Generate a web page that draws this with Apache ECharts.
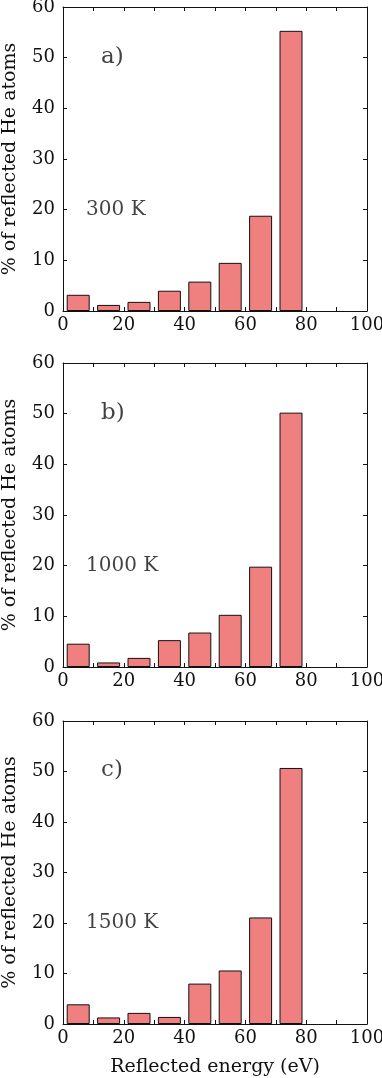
<!DOCTYPE html>
<html>
<head>
<meta charset="utf-8">
<script src="https://cdn.jsdelivr.net/npm/echarts@6/dist/echarts.min.js"></script>
<style>
  html, body { margin: 0; padding: 0; background: #fff; }
  #chart { width: 382px; height: 1078px; }
</style>
</head>
<body>
<div id="chart"></div>
<script>
//--------------------- Data ---------------------------//
const binCenters = [5, 15, 25, 35, 45, 55, 65, 75];
const values300 = [3.2, 1.2, 1.8, 4.0, 5.8, 9.5, 18.8, 55.3];
const values1000 = [4.6, 0.9, 1.8, 5.3, 6.8, 10.3, 19.8, 50.2];
const values1500 = [3.9, 1.3, 2.2, 1.4, 8.0, 10.6, 21.1, 50.7];
const panelLetters = ['a)', 'b)', 'c)'];
const tempLabels = ['300 K', '1000 K', '1500 K'];

//--------------------- Style ---------------------------//
const font = 'DejaVu Serif';
const ink = '#111';
const barColor = '#f08080';
const grids = [
  { left: 63, right: 15, top: 7, height: 304, outerBoundsMode: 'none' },
  { left: 63, right: 15, top: 363, height: 304, outerBoundsMode: 'none' },
  { left: 63, right: 15, top: 721, height: 303, outerBoundsMode: 'none' },
];

const chart = echarts.init(document.getElementById('chart'));

const xAxes = [];
const yAxes = [];
const series = [];
const allValues = [values300, values1000, values1500];

grids.forEach((g, i) => {
  const tick = { show: true, inside: true, length: 4, lineStyle: { color: ink } };
  const minor = { show: true, splitNumber: 2, length: 4, lineStyle: { color: ink } };
  const line = { show: true, onZero: false, lineStyle: { color: ink, width: 1 } };
  // bottom x axis
  xAxes.push({
    gridIndex: i, type: 'value', min: 0, max: 100, interval: 20, position: 'bottom',
    axisLine: line, axisTick: tick, minorTick: minor,
    splitLine: { show: false }, minorSplitLine: { show: false },
    axisLabel: { fontFamily: font, fontSize: 18, color: ink, margin: 5 },
    name: i === 2 ? 'Reflected energy (eV)' : '',
    nameLocation: 'middle', nameGap: 34,
    nameTextStyle: { fontFamily: font, fontSize: 19, color: ink },
  });
  // top x axis (ticks only)
  xAxes.push({
    gridIndex: i, type: 'value', min: 0, max: 100, interval: 20, position: 'top',
    axisLine: line, axisTick: tick, minorTick: minor,
    splitLine: { show: false }, axisLabel: { show: false },
  });
  // left y axis
  yAxes.push({
    gridIndex: i, type: 'value', min: 0, max: 60, interval: 10, position: 'left',
    axisLine: line, axisTick: tick, splitLine: { show: false },
    axisLabel: { fontFamily: font, fontSize: 18, color: ink, margin: 8 },
    name: '% of reflected He atoms', nameLocation: 'middle', nameRotate: 90, nameGap: 43,
    nameTextStyle: { fontFamily: font, fontSize: 19, color: ink },
  });
  // right y axis (ticks only)
  yAxes.push({
    gridIndex: i, type: 'value', min: 0, max: 60, interval: 10, position: 'right',
    axisLine: line, axisTick: tick, splitLine: { show: false }, axisLabel: { show: false },
  });

  series.push({
    type: 'bar',
    xAxisIndex: i * 2, yAxisIndex: i * 2,
    barWidth: 23,
    data: binCenters.map((x, k) => [x, allValues[i][k]]),
    itemStyle: { color: barColor, borderColor: ink, borderWidth: 1 },
  });
  // panel letter and temperature label
  series.push({
    type: 'scatter',
    xAxisIndex: i * 2, yAxisIndex: i * 2,
    symbolSize: 0,
    silent: true,
    data: [
      { value: [12.5, 50.2], label: { formatter: panelLetters[i], fontSize: 23 } },
      { value: [7.6, 20], label: { formatter: tempLabels[i], fontSize: 20 } },
    ],
    label: { show: true, position: 'right', distance: 0, fontFamily: font, color: ink },
  });
});

chart.setOption({
  animation: false,
  grid: grids,
  xAxis: xAxes,
  yAxis: yAxes,
  series: series,
});
</script>
</body>
</html>
